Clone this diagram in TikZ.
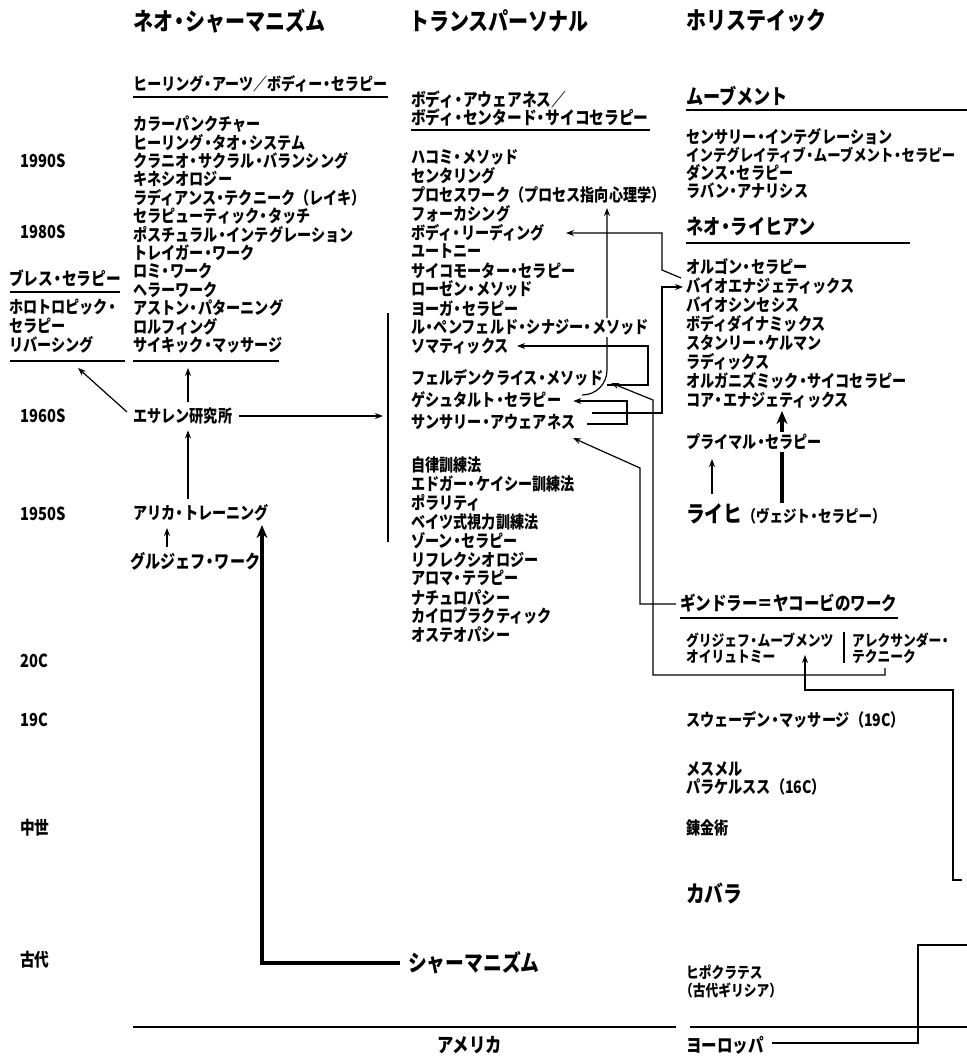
\documentclass[tikz,border=0pt]{standalone}
\usepackage{fontspec}
\usepackage{newunicodechar}
\setmainfont{Noto Sans CJK JP}[FakeStretch=0.82]
\newunicodechar{・}{\makebox[0.5em]{\char"30FB\relax}}
\usetikzlibrary{arrows.meta,calc}
\pgfdeclarelayer{bg}
\pgfsetlayers{bg,main}
\newcommand\myitem{\fontsize{17.3}{19}\selectfont\bfseries}
\newcommand\mydate{\fontsize{18}{20}\selectfont\bfseries}
\newcommand\mysub{\fontsize{18}{20}\selectfont\bfseries}
\newcommand\mysubb{\fontsize{21}{24}\selectfont\bfseries}
\newcommand\myhead{\fontsize{24.5}{27}\selectfont\bfseries}
\newcommand\mybig{\fontsize{23}{26}\selectfont\bfseries}
\newcommand\mysmall{\fontsize{15.6}{18}\selectfont\bfseries}
\tikzset{
  itm/.style={anchor=west, inner sep=0pt, font=\myitem},
  dat/.style={anchor=west, inner sep=0pt, font=\mydate},
  sub/.style={anchor=west, inner sep=0pt, font=\mysub},
  subb/.style={anchor=west, inner sep=0pt, font=\mysubb},
  hd/.style={anchor=west, inner sep=0pt, font=\myhead},
  big/.style={anchor=west, inner sep=0pt, font=\mybig},
  sml/.style={anchor=west, inner sep=0pt, font=\mysmall},
  ln/.style={line width=1.2bp},
  ul/.style={line width=1.3bp},
  arr/.style={-{Stealth[length=8bp,width=6bp]}, line width=1.2bp},
  tarr/.style={-{Stealth[length=13bp,width=11bp]}, line width=3.2bp},
  cover/.style={fill=white, inner ysep=1.5bp, inner xsep=0pt}
}
\begin{document}
\begin{tikzpicture}[x=1bp,y=-1bp]
\useasboundingbox (0,0) rectangle (967,1059);

% headers
\node[hd] (h1) at (133,21) {ネオ・シャーマニズム};
\node[hd] (h2) at (409,21) {トランスパーソナル};
\node[hd] (h3) at (686,21) {ホリステイック};

% dates
\node[dat] (d1) at (20,161) {1990S};
\node[dat] (d2) at (20,232) {1980S};
\node[dat] (d3) at (20,416) {1960S};
\node[dat] (d4) at (20,514) {1950S};
\node[dat] (d5) at (20,661) {20C};
\node[dat] (d6) at (20,720) {19C};
\node[dat] (d7) at (20,828) {中世};
\node[dat] (d8) at (20,960) {古代};

% column 1
\node[sub, font=\fontsize{17.2}{20}\selectfont\bfseries] (s1) at (133,84) {ヒーリング・アーツ／ボディー・セラピー};
\draw[ul] (133,97) -- (388,97);
\node[itm] at (133,124) {カラーパンクチャー};
\node[itm] at (133,142.4) {ヒーリング・タオ・システム};
\node[itm] at (133,160.8) {クラニオ・サクラル・バランシング};
\node[itm] at (133,179.2) {キネシオロジー};
\node[itm] at (133,197.6) {ラディアンス・テクニーク（レイキ）};
\node[itm] at (133,216) {セラピューティック・タッチ};
\node[itm] at (133,234.4) {ポスチュラル・インテグレーション};
\node[itm] at (133,252.8) {トレイガー・ワーク};
\node[itm] at (133,271.2) {ロミ・ワーク};
\node[itm] at (133,289.6) {ヘラーワーク};
\node[itm] at (133,308) {アストン・パターニング};
\node[itm] at (133,326.4) {ロルフィング};
\node[itm] (psy) at (133,344.8) {サイキック・マッサージ};
\draw[ul] (133,361) -- (279,361);
\coordinate (c1ul) at (188,368);

\node[sub] (br) at (9,278) {ブレス・セラピー};
\draw[ul] (10,292) -- (120,292);
\node[itm] at (9,307) {ホロトロピック・};
\node[itm] at (9,326) {セラピー};
\node[itm] at (9,344.8) {リバーシング};
\draw[ul] (10,361) -- (125,361);
\coordinate (brul) at (78,368);

\node[itm] (esa) at (133,416) {エサレン研究所};
\node[itm] (ari) at (133,513) {アリカ・トレーニング};
\node[sub, font=\fontsize{18.5}{22}\selectfont\bfseries] (gur) at (130,561) {グルジェフ・ワーク};
\coordinate (vtop) at (388,313);
\coordinate (vbot) at (388,542);
\coordinate (gurup) at (167,547);
\coordinate (aridn) at (167,528);

% column 2
\node[sub] at (411,99) {ボディ・アウェアネス／};
\node[sub] (s2) at (411,117) {ボディ・センタード・サイコセラピー};
\draw[ul] (411,130) -- (650,130);
\node[itm] at (411,157) {ハコミ・メソッド};
\node[itm] at (411,175.9) {センタリング};
\node[itm] (proc) at (411,194.8) {プロセスワーク（プロセス指向心理学）};
\node[itm] at (411,213.7) {フォーカシング};
\node[itm] (bread) at (411,232.6) {ボディ・リーディング};
\node[itm] at (411,251.5) {ユートニー};
\node[itm] at (411,270.4) {サイコモーター・セラピー};
\node[itm] at (411,289.3) {ローゼン・メソッド};
\node[itm] at (411,308.2) {ヨーガ・セラピー};
\node[itm] (soma) at (411,346) {ソマティックス};
\node[itm] (feld) at (411,378) {フェルデンクライス・メソッド};
\node[itm] (gest) at (411,400) {ゲシュタルト・セラピー};
\node[itm] (sansa) at (411,422) {サンサリー・アウェアネス};
\node[itm] at (411,465) {自律訓練法};
\node[itm] at (411,483.9) {エドガー・ケイシー訓練法};
\node[itm] at (411,502.8) {ポラリティ};
\node[itm] at (411,521.7) {ベイツ式視力訓練法};
\node[itm] at (411,540.6) {ゾーン・セラピー};
\node[itm] at (411,559.5) {リフレクシオロジー};
\node[itm] at (411,578.4) {アロマ・テラピー};
\node[itm] at (411,597.3) {ナチュロパシー};
\node[itm] at (411,616.2) {カイロプラクティック};
\node[itm] at (411,635.1) {オステオパシー};

% column 3
\node[subb] (mv) at (686,96) {ムーブメント};
\draw[ul] (686,110) -- (967,110);
\node[itm] at (686,137) {センサリー・インテグレーション};
\node[itm, font=\fontsize{16.4}{19}\selectfont\bfseries] at (686,155) {インテグレイティブ・ムーブメント・セラピー};
\node[itm] at (686,173) {ダンス・セラピー};
\node[itm] at (686,191) {ラバン・アナリシス};
\node[subb] (nr) at (686,227) {ネオ・ライヒアン};
\draw[ul] (686,243) -- (910,243);
\node[itm] (org) at (686,267) {オルゴン・セラピー};
\node[itm] (bio) at (686,286) {バイオエナジェティックス};
\node[itm] at (686,305) {バイオシンセシス};
\node[itm] at (686,324) {ボディダイナミックス};
\node[itm] at (686,343) {スタンリー・ケルマン};
\node[itm] at (686,362) {ラディックス};
\node[itm] at (686,381) {オルガニズミック・サイコセラピー};
\node[itm] (core) at (686,400) {コア・エナジェティックス};
\node[anchor=west, inner sep=0pt] (reich) at (686,514) {{\mybig ライヒ}{\fontsize{16.5}{19}\selectfont\bfseries（ヴェジト・セラピー）}};

\node[sub, font=\fontsize{19}{22}\selectfont\bfseries] (ging) at (680,603) {ギンドラー＝ヤコービのワーク};
\draw[ul] (680,618) -- (898,618);
\node[sml] (gm) at (686,640) {グリジェフ・ムーブメンツ};
\node[sml] at (686,657) {オイリュトミー};
\node[sml] (alx) at (852,640) {アレクサンダー・};
\node[sml] (tech) at (852,657) {テクニーク};
\draw[ln] (844,632) -- (844,663);
\node[itm] at (686,720) {スウェーデン・マッサージ（19C）};
\node[itm] at (686,769) {メスメル};
\node[itm] at (686,787) {パラケルスス（16C）};
\node[itm] at (686,828) {錬金術};
\node[big] (kab) at (686,893) {カバラ};
\node[sml] (hip) at (686,972) {ヒポクラテス};
\node[sml] at (680,990) {（古代ギリシア）};

\node[big] (sham) at (408,963) {シャーマニズム};
\draw[ul] (133,1027) -- (676,1027);
\draw[ul] (690,1027) -- (967,1027);
\node[subb, font=\fontsize{20}{23}\selectfont\bfseries] (ame) at (437,1045) {アメリカ};
\node[subb, font=\fontsize{19}{23}\selectfont\bfseries] (eur) at (686,1045) {ヨーロッパ};

% nodes that sit on top of lines
\node[itm, cover] (lepen) at (411,327.1) {ル・ペンフェルド・シナジー・メソッド};
\node[itm, cover] (prim) at (686,442) {プライマル・セラピー};

\begin{pgfonlayer}{bg}
  % left column arrows
  \draw[arr] ($(esa.north -| c1ul)+(0,-6)$) -- (c1ul);
  \draw[arr] ($(esa.west)+(-6,-4)$) -- (brul);
  \draw[arr] ($(esa.east)+(7,0)$) -- ($(esa.east -| vtop)+(-5,0)$);
  \draw[ln] (vtop) -- (vbot);
  \draw[arr] ($(ari.north -| c1ul)+(0,-5)$) -- ($(esa.south -| c1ul)+(0,6)$);
  \draw[arr] (gurup) -- (aridn);
  \draw[tarr] ($(sham.west)+(-8,0)$) -- (262,963) -- (262,525);

  % middle connectors
  \draw[arr] (582,395) .. controls (596,395) and (607,384) .. (607,370) -- (607,208);
  \draw[arr] (607,385) -- (648,385) -- (648,346) -- ($(soma.east)+(8,0)$);
  \draw[arr] ($(sansa.east)+(12,2)$) -- (627,424) -- (627,401) -- ($(gest.east)+(12,1)$);
  \draw[arr] (592,413) -- (662,413) -- (662,287) -- ($(bio.west)+(-3,1)$);
  \draw[arr] ($(org.west)+(-5,11)$) -- (662,270) -- (662,233) -- (566,233);
  \draw[arr] (885,668) -- (885,675) -- (653,675) -- (653,400) -- (611,383);
  \draw[arr] ($(ging.west)+(-4,1)$) -- (640,604) -- (640,468) -- (573,438);
  \draw[arr] (962,880) -- (953,880) -- (953,690) -- (805,690) -- (805,655);
  \draw[ln] ($(eur.east)+(8,-2)$) -- (918,1043) -- (918,945) -- (967,945);

  % right column
  \draw[arr] (712,494) -- (712,459);
  \draw[tarr] (782,503) -- (782,411);
\end{pgfonlayer}
\end{tikzpicture}
\end{document}
